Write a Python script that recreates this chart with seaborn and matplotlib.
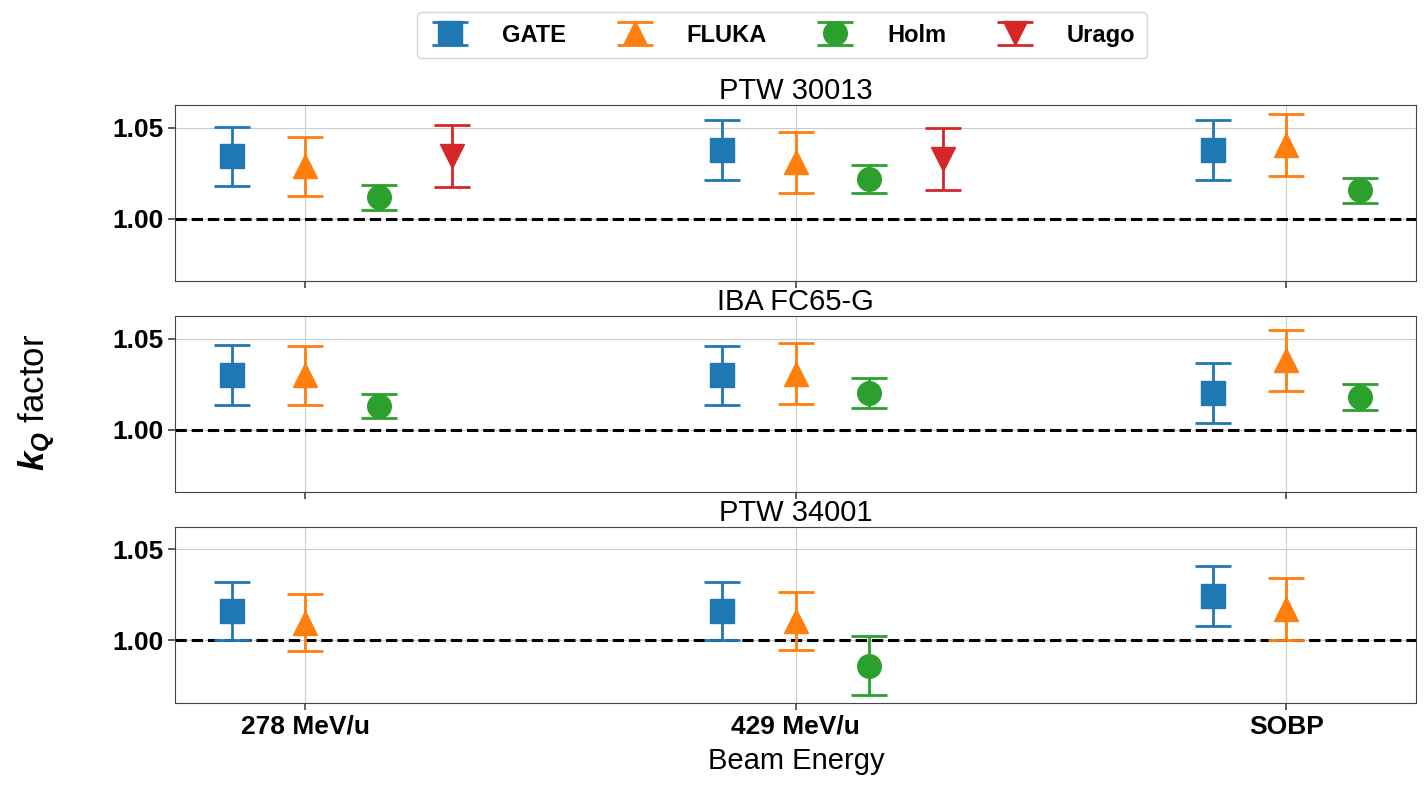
import seaborn as sns
import numpy as np
import matplotlib.pyplot as plt

# beam energies on the x axis
energies = ['278 MeV/u', '429 MeV/u', 'SOBP']
chambers = ['PTW 30013', 'IBA FC65-G', 'PTW 34001']

# kQ values (None = no data)
gate_kq = [[1.0343, 1.0379, 1.0379],
           [1.0302, 1.0299, 1.0203],
           [1.0161, 1.0161, 1.0244]]
gate_err = [[0.0162, 0.0165, 0.0165],
            [0.0165, 0.0162, 0.0165],
            [0.0161, 0.0161, 0.0167]]

fluka_kq = [[1.0288, 1.0310, 1.0406],
            [1.0299, 1.0308, 1.0382],
            [1.0097, 1.0106, 1.0172]]
fluka_err = [[0.0162, 0.0168, 0.0170],
             [0.0162, 0.0170, 0.0168],
             [0.0158, 0.0161, 0.0172]]

holm_kq = [[1.0118, 1.0220, 1.0157],
           [1.0132, 1.0201, 1.0179],
           [None, 0.9861, None]]
holm_err = [[0.0069, 0.0077, 0.0069],
            [0.0066, 0.0080, 0.0069],
            [None, 0.0161, None]]

urago_kq = [[1.0346, 1.0330, None],
            [None, None, None],
            [None, None, None]]
urago_err = [[0.0170, 0.0170, None],
             [None, None, None],
             [None, None, None]]

series = [('GATE', gate_kq, gate_err, 's', -0.15),
          ('FLUKA', fluka_kq, fluka_err, '^', 0.0),
          ('Holm', holm_kq, holm_err, 'o', 0.15),
          ('Urago', urago_kq, urago_err, 'v', 0.30)]

sns.set_style('whitegrid', rc={'axes.edgecolor': '#444444', 'axes.linewidth': 1.6,
                               'grid.color': '#cccccc', 'grid.linewidth': 1.0,
                               'xtick.bottom': True, 'ytick.left': True,
                               'xtick.color': '#444444', 'ytick.color': '#444444',
                               'text.color': 'black', 'axes.labelcolor': 'black'})
plt.rcParams['font.family'] = ['Liberation Sans', 'DejaVu Sans']
plt.rcParams['mathtext.fontset'] = 'custom'
plt.rcParams['mathtext.it'] = 'Liberation Sans:italic:bold'
plt.rcParams['mathtext.rm'] = 'Liberation Sans'
colors = sns.color_palette('tab10', 4)

fig, axes = plt.subplots(3, 1, figsize=(14.25, 7.9), dpi=100, sharex=True, sharey=True)
fig.subplots_adjust(left=0.123, right=0.994, top=0.867, bottom=0.110, hspace=0.195)

x = np.arange(len(energies))
handles = []
for row, ax in enumerate(axes):
    for (name, vals, errs, mk, off), col in zip(series, colors):
        v = np.array([np.nan if a is None else a for a in vals[row]], dtype=float)
        e = np.array([np.nan if a is None else a for a in errs[row]], dtype=float)
        keep = ~np.isnan(v)
        h = ax.errorbar(x[keep] + off, v[keep], yerr=e[keep], fmt=mk, color=col,
                        markersize=17, capsize=13, elinewidth=2, capthick=2, label=name)
        if row == 0:
            handles.append(h)
    ax.axhline(1.0, color='black', linestyle='--', linewidth=2.2, zorder=1)
    ax.set_title(chambers[row], fontsize=21, pad=4, color='black')
    ax.set_yticks([1.00, 1.05])
    ax.set_yticklabels(['1.00', '1.05'], fontsize=19, fontweight='bold', color='black')
    ax.tick_params(axis='both', length=5, width=1.2, colors='#444444', labelcolor='black')
    ax.grid(True, axis='both')

axes[-1].set_xticks(x)
axes[-1].set_xticklabels(energies, fontsize=19, fontweight='bold')
axes[-1].set_xlabel('Beam Energy', fontsize=21, labelpad=6)
for ax in axes:
    ax.set_xlim(-0.265, 2.265)
    ax.set_ylim(0.9655, 1.0625)

fig.text(0.026, 0.49, r'$\mathit{k_Q}$ factor', rotation=90, fontsize=25,
         va='center', ha='center')

fig.legend(handles, ['GATE', 'FLUKA', 'Holm', 'Urago'], loc='upper center',
           bbox_to_anchor=(0.549, 1.0), ncol=4, frameon=True,
           prop={'weight': 'bold', 'size': 17}, handlelength=1.8, columnspacing=2.0,
           handletextpad=1.3, borderpad=0.5)

plt.savefig('out.png', dpi=100)
